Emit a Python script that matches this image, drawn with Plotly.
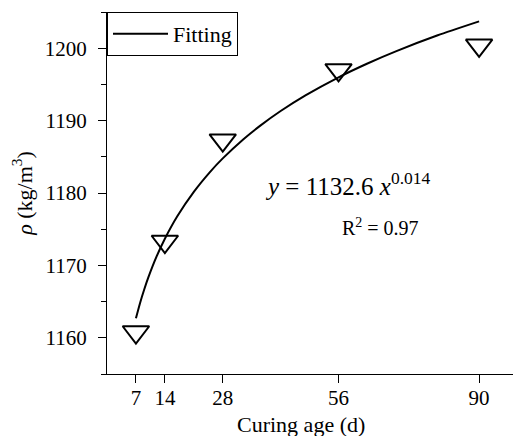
import plotly.graph_objects as go

# Measured data (curing age in days, density in kg/m3)
age_days = [7, 14, 28, 56, 90]
density = [1160.8, 1173.3, 1187.3, 1197.0, 1200.4]

# Fitting curve
fit_age = [7, 8, 9, 10, 12, 14, 17, 21, 25, 28, 33, 37, 42, 48, 56, 63, 70, 80, 90]
fit_density = [1162.70, 1164.81, 1166.67, 1168.34, 1171.24, 1173.69, 1176.79, 1180.16,
               1182.96, 1184.78, 1187.43, 1189.27, 1191.32, 1193.48, 1195.98, 1197.89,
               1199.60, 1201.78, 1203.70]

x_ticks = [7, 14, 28, 56, 90]
y_ticks = [1160, 1170, 1180, 1190, 1200]

FONT = "Times New Roman"

fig = go.Figure()
fig.add_trace(go.Scatter(
    x=fit_age, y=fit_density, mode="lines", name="Fitting",
    line=dict(color="black", width=2, shape="spline", smoothing=0.6),
))
fig.add_trace(go.Scatter(
    x=age_days, y=density, mode="markers", showlegend=False,
    marker=dict(symbol="triangle-down-open", size=23, color="black",
                line=dict(color="black", width=2)),
))

fig.add_annotation(
    x=37.8, y=1181.3, xref="x", yref="y", xanchor="left", yanchor="middle",
    text="<i>y</i> = 1132.6 <i>x</i><sup>0.014</sup>", showarrow=False,
    font=dict(family=FONT, size=25, color="black"),
)
fig.add_annotation(
    x=56.4, y=1175.3, xref="x", yref="y", xanchor="left", yanchor="middle",
    text="R<sup>2</sup> = 0.97", showarrow=False,
    font=dict(family=FONT, size=20, color="black"),
)
# x-axis title
fig.add_annotation(
    x=0.478, y=-0.1, xref="paper", yref="paper", xanchor="center", yanchor="top",
    text="Curing age (d)", showarrow=False,
    font=dict(family=FONT, size=22, color="black"),
)

fig.update_layout(
    width=513, height=436,
    margin=dict(l=107, r=0, t=12, b=62),
    paper_bgcolor="white", plot_bgcolor="white",
    font=dict(family=FONT, size=21, color="black"),
    legend=dict(
        x=0, y=1, xanchor="left", yanchor="top",
        bordercolor="black", borderwidth=1, bgcolor="white",
        font=dict(family=FONT, size=22, color="black"),
        itemwidth=55,
    ),
)
fig.update_xaxes(
    range=[0, 98.2], tickvals=x_ticks, ticktext=[str(v) for v in x_ticks],
    showgrid=False, zeroline=False, showline=True, linecolor="black", linewidth=1,
    ticks="outside", ticklen=8, tickcolor="black", tickwidth=1,
    tickfont=dict(family=FONT, size=21, color="black"), ticklabelstandoff=-3,
)
fig.update_yaxes(
    range=[1155, 1205], tickvals=y_ticks, ticktext=[str(v) for v in y_ticks],
    showgrid=False, zeroline=False, showline=True, linecolor="black", linewidth=1,
    ticks="outside", ticklen=8, tickcolor="black", tickwidth=1,
    tickfont=dict(family=FONT, size=21, color="black"), ticklabelstandoff=7,
    minor=dict(dtick=5, tick0=1155, ticks="outside", ticklen=5, tickcolor="black", tickwidth=1, showgrid=False),
    title=dict(text="<i>ρ</i> (kg/m<sup>3</sup>)", font=dict(family=FONT, size=22, color="black"), standoff=6),
)

fig.write_html("out.html")
